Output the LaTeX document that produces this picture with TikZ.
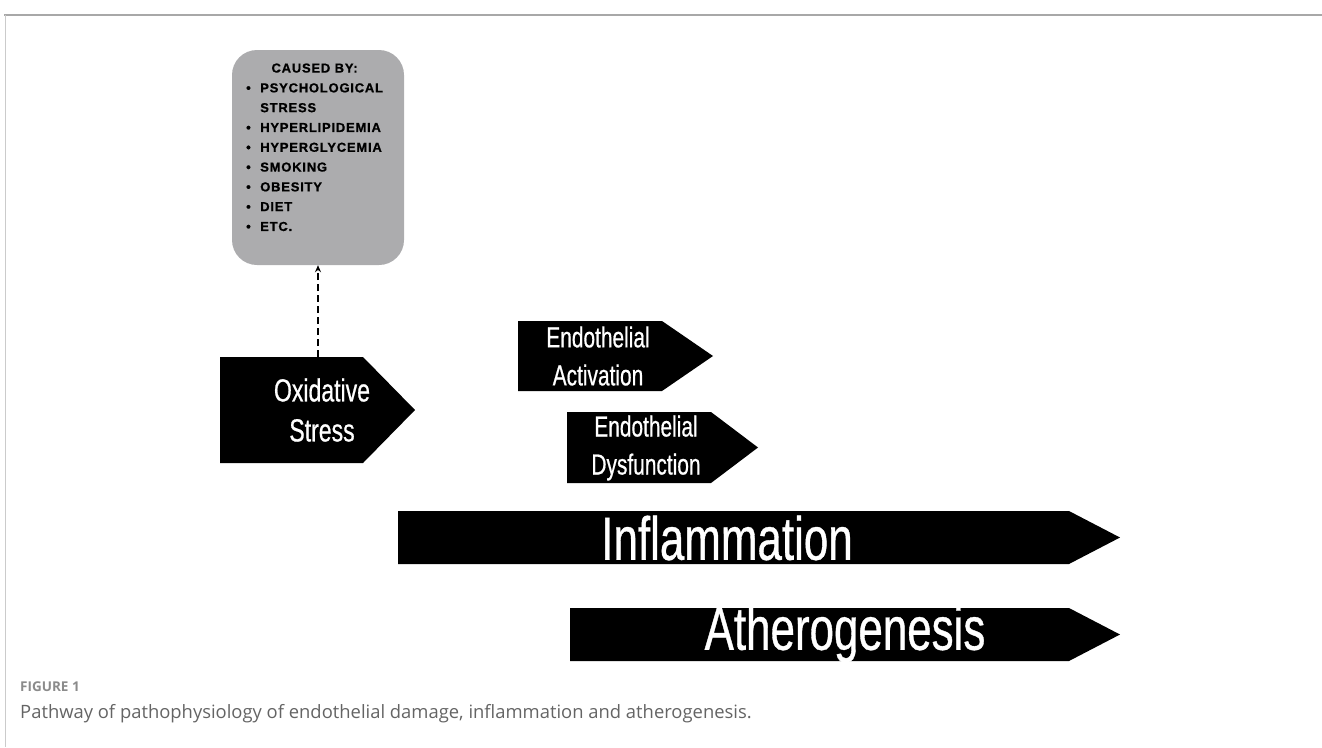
\documentclass[tikz,border=0pt]{standalone}
\usepackage{fontspec}
\usetikzlibrary{arrows.meta}
\setmainfont{Liberation Sans}
\newfontfamily\bannerfont[FakeStretch=0.72, FakeBold=0.6]{Liberation Sans}
\newfontfamily\listfont[LetterSpace=6, BoldFeatures={FakeBold=0.8}]{Liberation Sans}
\newfontfamily\capfont{Open Sans}
\definecolor{boxgray}{RGB}{172,172,174}
\definecolor{framegray}{RGB}{168,168,168}
\definecolor{capgray}{RGB}{100,100,100}

\tikzset{
  banner/.style={text=white, align=center, inner sep=0pt},
  smallbanner/.style={banner, font=\bannerfont\fontsize{29}{38}\selectfont},
  bigbanner/.style={banner, font=\bannerfont\fontsize{61}{62}\selectfont},
}

\begin{document}
\begin{tikzpicture}[x=1pt, y=-1pt]
            \useasboundingbox (0,0) rectangle (1322,747);
            % frame
            \draw[framegray, line width=2pt] (4,14.5) -- (1322,14.5);
            \draw[framegray!60, line width=1pt] (5,14.5) -- (5,747);
            % arrow shapes: left/top/shoulder/tip/bottom
            \foreach \l/\t/\s/\p/\b in {220/357/363/415/463, 518/321/662/713/391,
                567/412/711/758/483, 398/511/1069/1120/564, 570/608/1069/1120/661}
                \fill[black] (\l,\t) -- (\s,\t) -- (\p,{(\t+\b)/2}) -- (\s,\b) -- (\l,\b) -- cycle;
            % texts on the arrows
            \node[smallbanner, font=\bannerfont\fontsize{32}{40}\selectfont] (ox) at (322,410) {Oxidative\\Stress};
            \node[smallbanner] (act) at (598,356) {Endothelial\\Activation};
            \node[smallbanner] (dys) at (646,448) {Endothelial\\Dysfunction};
            \node[bigbanner] (infl) at (727,538) {Inflammation};
            \node[bigbanner] (ath) at (845,634) {Atherogenesis};
            % causes box
            \node[fill=boxgray, rounded corners=25pt, minimum width=172pt, minimum height=215pt] (causes) at (318,157.5) {};
            \node[anchor=north west, inner sep=0pt, font=\listfont\bfseries\fontsize{13}{19.8}\selectfont] (list) at (246,58.5)
                {\begin{tabular}{@{}c@{\hspace{9.5pt}}l@{}}
                \multicolumn{2}{c}{CAUSED BY:}\\
                • & PSYCHOLOGICAL\\
                  & STRESS\\
                • & HYPERLIPIDEMIA\\
                • & HYPERGLYCEMIA\\
                • & SMOKING\\
                • & OBESITY\\
                • & DIET\\
                • & ETC.
                \end{tabular}};
            % dashed link
            \coordinate (oxtop) at (318,357);
            \draw[dashed, line width=1.6pt, dash pattern=on 7pt off 4pt, -{Stealth[length=7pt, width=6pt]}] (oxtop) -- (causes.south);
            % caption
            \node[anchor=base west, inner sep=0pt, text=capgray!75, font=\capfont\bfseries\fontsize{13.5}{15}\selectfont] (fig) at (20,691) {FIGURE 1};
            \node[anchor=base west, inner sep=0pt, text=capgray, font=\capfont\fontsize{18.4}{20}\selectfont] (cap) at (20,718) {Pathway of pathophysiology of endothelial damage, inflammation and atherogenesis.};
        \end{tikzpicture}
\end{document}
